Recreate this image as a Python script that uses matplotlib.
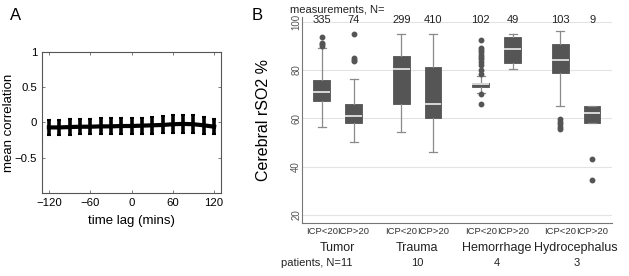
import numpy as np
import matplotlib
matplotlib.use("Agg")
import matplotlib.pyplot as plt
import matplotlib.transforms as mtransforms

plt.rcParams['font.family'] = ['Liberation Sans', 'DejaVu Sans']

# panel A: mean correlation vs time lag
lags = [-120, -105, -90, -75, -60, -45, -30, -15, 0, 15, 30, 45, 60, 75, 90, 105, 120]
mean_corr = [-0.07, -0.07, -0.065, -0.06, -0.06, -0.055, -0.055, -0.05, -0.05,
             -0.045, -0.04, -0.035, -0.025, -0.02, -0.025, -0.04, -0.06]
corr_err = [0.11, 0.11, 0.11, 0.11, 0.11, 0.115, 0.115, 0.115, 0.115,
            0.115, 0.12, 0.12, 0.13, 0.13, 0.13, 0.12, 0.11]

# panel B: cerebral rSO2 box stats
groups = ["Tumor", "Trauma", "Hemorrhage", "Hydrocephalus"]
patients = ["11", "10", "4", "3"]
box_labels = ["ICP<20", "ICP>20"] * 4
counts = ["335", "74", "299", "410", "102", "49", "103", "9"]
whislo = [56.3, 50.2, 54.2, 46.2, 70.3, 80.3, 65.1, 58.2]
q1 = [67.2, 57.9, 65.9, 60.1, 73.1, 82.8, 78.9, 58.2]
med = [71.0, 61.1, 80.3, 66.0, 74.1, 88.6, 84.1, 62.3]
q3 = [75.9, 65.9, 85.9, 81.1, 74.8, 93.8, 90.8, 65.2]
whishi = [89.0, 76.1, 94.9, 94.9, 77.6, 94.9, 96.0, 65.2]
fliers = [
    [93.8, 91.2, 90.6, 90.0],
    [94.9, 84.8, 84.2, 83.9],
    [],
    [],
    [92.4, 89.0, 88.2, 87.4, 86.4, 85.4, 84.4, 83.2, 82.2, 80.2, 78.2, 70.2, 66.1],
    [],
    [59.6, 58.6, 57.6, 56.6, 55.4],
    [43.1, 34.4],
]

fig = plt.figure(figsize=(6.29, 2.76), dpi=100)

# ---- A ----
axA = fig.add_axes([0.0668, 0.3007, 0.2846, 0.511])
axA.errorbar(lags, mean_corr, yerr=corr_err, color='black', lw=3,
             elinewidth=2.6, capsize=1.2, capthick=1.5)
axA.set_xlim(-130, 130)
axA.set_ylim(-1, 1)
axA.set_xticks([-120, -60, 0, 60, 120])
axA.set_yticks([-0.5, 0, 0.5, 1])
axA.set_yticklabels(["\u22120.5", "0", "0.5", "1"])
axA.set_xticklabels(["\u2212120", "\u221260", "0", "60", "120"])
axA.tick_params(direction='in', top=True, right=True, length=2.5, width=0.6,
                labelsize=8.2, color='#666666', pad=3.5)
for s in axA.spines.values():
    s.set_color('#555555')
    s.set_linewidth(0.8)
axA.set_ylabel("mean correlation", fontsize=9.5)
axA.yaxis.set_label_coords(-0.15, 0.5)
axA.set_xlabel("time lag (mins)", fontsize=9.5, labelpad=5)
fig.text(10 / 629, 1 - 15 / 276, "A", fontsize=12, va='center', ha='left')

# ---- B ----
axB = fig.add_axes([0.480, 0.192, 0.493, 0.747])
offs = [-0.2, 0.2]
pos = [g + o for g in range(len(groups)) for o in offs]
stats = []
for i in range(len(pos)):
    stats.append(dict(med=med[i], q1=q1[i], q3=q3[i], whislo=whislo[i],
                      whishi=whishi[i], fliers=fliers[i]))
axB.bxp(stats, positions=pos, widths=0.21, patch_artist=True,
        boxprops=dict(facecolor='#555555', edgecolor='#555555', lw=0.6),
        medianprops=dict(color='#d8d8d8', lw=1.4),
        whiskerprops=dict(color='#8a8a8a', lw=0.9),
        capprops=dict(color='#8a8a8a', lw=0.9),
        flierprops=dict(marker='o', markersize=3.2, markerfacecolor='#555555',
                        markeredgecolor='#555555'),
        capwidths=0.1)
axB.set_xlim(-0.45, 3.45)
axB.set_ylim(16.7, 102)
axB.set_yticks([20, 40, 60, 80, 100])
axB.yaxis.grid(True, color='#e3e3e3', lw=0.8)
axB.set_axisbelow(True)
for s in ['top', 'right']:
    axB.spines[s].set_visible(False)
for s in ['left', 'bottom']:
    axB.spines[s].set_color('#777777')
    axB.spines[s].set_linewidth(0.8)
axB.tick_params(axis='y', length=0, labelsize=7, labelcolor='#555555', pad=0.5)
for lab in axB.get_yticklabels():
    lab.set_rotation(90)
    lab.set_va('center')
axB.set_xticks(pos)
axB.set_xticklabels(box_labels)
axB.tick_params(axis='x', length=0, labelsize=6.8, labelcolor='#333333', pad=3)
axB.set_ylabel("Cerebral rSO2 %", fontsize=11.5)
axB.yaxis.set_label_coords(-0.1, 0.5)

trans = mtransforms.blended_transform_factory(axB.transData, fig.transFigure)
for p, c in zip(pos, counts):
    axB.text(p, 1 - 20 / 276, c, transform=trans, ha='center', va='center',
             fontsize=8, color='#222222')
axB.text(0, 1 - 10 / 276, "measurements, N=", transform=trans, ha='center',
         va='center', fontsize=8, color='#222222')
for g, name in enumerate(groups):
    axB.text(g, 1 - 248 / 276, name, transform=trans, ha='center',
             va='center', fontsize=9, color='#222222')
    if g == 0:
        axB.text(0.18, 1 - 263 / 276, "patients, N=" + patients[g],
                 transform=trans, ha='right', va='center', fontsize=8,
                 color='#222222')
    else:
        axB.text(g, 1 - 263 / 276, patients[g], transform=trans,
                 ha='center', va='center', fontsize=8, color='#222222')
fig.text(257 / 629, 1 - 15 / 276, "B", fontsize=12, va='center', ha='center')

fig.savefig("out.png", dpi=100)
